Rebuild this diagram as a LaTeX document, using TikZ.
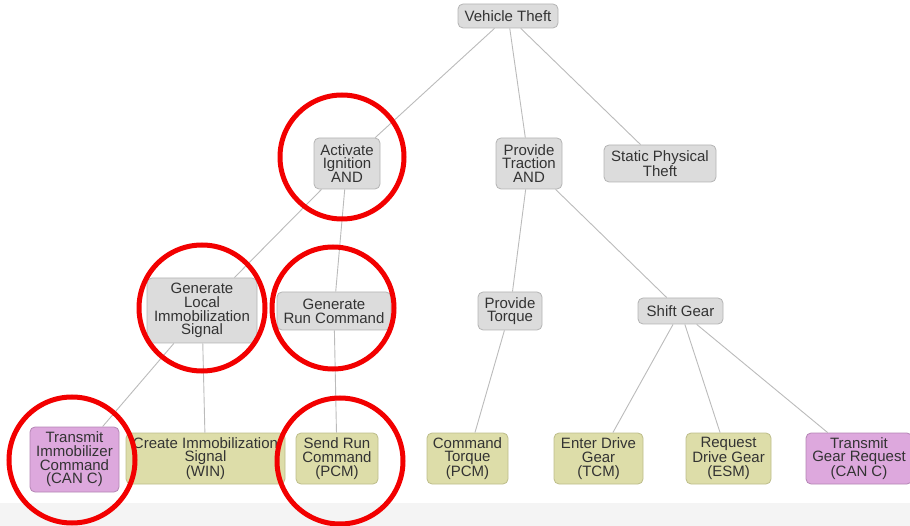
\documentclass[tikz,border=0pt]{standalone}
\usepackage{fontspec}
\setmainfont{Liberation Sans}
\definecolor{greyfill}{HTML}{DCDCDC}
\definecolor{greyline}{HTML}{B4B4B4}
\definecolor{olivefill}{HTML}{DDDDA9}
\definecolor{oliveline}{HTML}{BDBD8A}
\definecolor{purplefill}{HTML}{DDA8DD}
\definecolor{purpleline}{HTML}{B485B4}
\definecolor{edgecol}{HTML}{BBBBBB}
\definecolor{txt}{HTML}{333333}
\definecolor{band}{HTML}{F4F4F4}
\definecolor{ring}{HTML}{F20000}
\begin{document}
\begin{tikzpicture}[x=1pt,y=-1pt,
  box/.style={draw=greyline, fill=greyfill, rounded corners=5pt, line width=0.8pt,
    align=center, inner sep=0pt, text=txt,
    font=\fontsize{15}{13.7}\selectfont},
  gbox/.style={box},
  obox/.style={box, draw=oliveline, fill=olivefill},
  pbox/.style={box, draw=purpleline, fill=purplefill},
  edge/.style={draw=edgecol, line width=0.9pt},
  redring/.style={draw=ring, line width=5pt}]
\useasboundingbox (0,0) rectangle (910,526);
\clip (0,0) rectangle (910,526);
\fill[band] (0,503) rectangle (910,526);
% level 0
\node[gbox, minimum width=100pt, minimum height=24pt] (vt) at (508,16) {Vehicle Theft};
% level 1
\node[gbox, minimum width=66pt, minimum height=51pt] (ai) at (347,163.5) {Activate\\Ignition\\AND};
\node[gbox, minimum width=66pt, minimum height=51pt] (pt) at (529,163.5) {Provide\\Traction\\AND};
\node[gbox, minimum width=112pt, minimum height=37pt] (sp) at (660,163.5) {Static Physical\\Theft};
% level 2
\node[gbox, minimum width=110pt, minimum height=65pt] (gl) at (202,310.5) {Generate\\Local\\Immobilization\\Signal};
\node[gbox, minimum width=114pt, minimum height=38pt] (gr) at (334,311) {Generate\\Run Command};
\node[gbox, minimum width=64pt, minimum height=38pt] (ptq) at (510,311) {Provide\\Torque};
\node[gbox, minimum width=85pt, minimum height=26pt] (sg) at (680.5,311) {Shift Gear};
% level 3
\node[pbox, minimum width=89pt, minimum height=65pt] (ti) at (74.5,459.5) {Transmit\\Immobilizer\\Command\\(CAN C)};
\node[obox, minimum width=159pt, minimum height=51pt] (ci) at (205.5,458.5) {Create Immobilization\\Signal\\(WIN)};
\node[obox, minimum width=82pt, minimum height=51pt] (sr) at (337,458.5) {Send Run\\Command\\(PCM)};
\node[obox, minimum width=81pt, minimum height=51pt] (ct) at (467.5,458.5) {Command\\Torque\\(PCM)};
\node[obox, minimum width=89pt, minimum height=51pt] (ed) at (598.5,458.5) {Enter Drive\\Gear\\(TCM)};
\node[obox, minimum width=85pt, minimum height=51pt] (rd) at (728.5,458.5) {Request\\Drive Gear\\(ESM)};
\node[pbox, minimum width=106pt, minimum height=51pt] (tg) at (859,458.5) {Transmit\\Gear Request\\(CAN C)};
% connectors
\draw[edge] (vt) -- (ai);
\draw[edge] (vt) -- (pt);
\draw[edge] (vt) -- (sp);
\draw[edge] (ai) -- (gl);
\draw[edge] (ai) -- (gr);
\draw[edge] (pt) -- (ptq);
\draw[edge] (pt) -- (sg);
\draw[edge] (gl) -- (ti);
\draw[edge] (gl) -- (ci);
\draw[edge] (gr) -- (sr);
\draw[edge] (ptq) -- (ct);
\draw[edge] (sg) -- (ed);
\draw[edge] (sg) -- (rd);
\draw[edge] (sg) -- (tg);
% red rings
\draw[redring] (342,157) circle[radius=62pt];
\draw[redring] (202,308) circle[radius=63pt];
\draw[redring] (333,308) circle[radius=61pt];
\draw[redring] (72,460) circle[radius=63pt];
\draw[redring] (340,461) circle[radius=63pt];
\end{tikzpicture}
\end{document}
